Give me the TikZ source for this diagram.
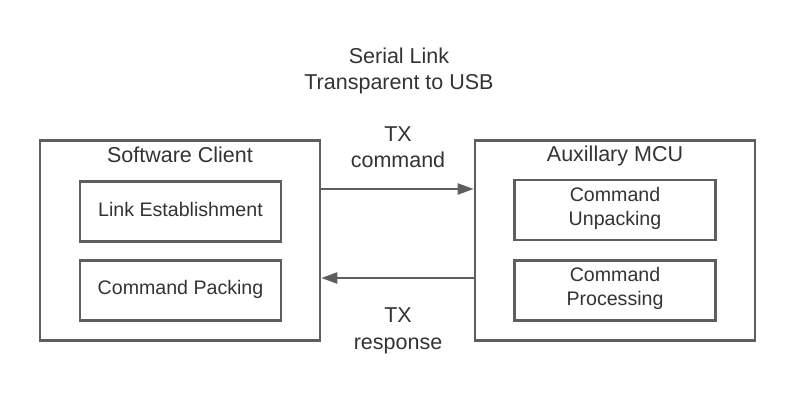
\documentclass[tikz,border=0pt]{standalone}
\usepackage{fontspec}
\setmainfont{Liberation Sans}
\usetikzlibrary{arrows.meta}
\definecolor{edge}{HTML}{5E5E5E}
\definecolor{txt}{HTML}{333333}
\tikzset{
  outerbox/.style={draw=edge, line width=2.6pt, minimum width=280pt, minimum height=200pt, inner sep=0pt},
  innerbox/.style={draw=edge, line width=2.6pt, minimum width=201pt, minimum height=60pt, inner sep=0pt},
  innertxt/.style={text=txt, align=center, inner sep=0pt, font=\fontsize{19.6}{24}\selectfont},
  bigtxt/.style={text=txt, align=center, inner sep=0pt, font=\fontsize{21.5}{26.5}\selectfont},
  arr/.style={draw=edge, line width=2.2pt, -{Triangle[length=16pt,width=11pt]}}
}
\begin{document}
\begin{tikzpicture}[x=1pt,y=-1pt]
\useasboundingbox (0,0) rectangle (795,403);
\node[bigtxt] (title) at (399,71) {Serial Link\\Transparent to USB};
\node[outerbox] (sc) at (180,240.5) {};
\node[outerbox] (mcu) at (615,240.5) {};
\node[bigtxt] (sct) at (180,155) {Software Client};
\node[bigtxt] (mcut) at (615,156) {Auxillary MCU};
\node[innerbox] (le) at (180.5,211.5) {};
\node[innerbox] (cp) at (180.5,290.5) {};
\node[innerbox] (cu) at (615,210) {};
\node[innerbox] (cpr) at (615,290.5) {};
\node[innertxt] (let) at (180.5,209.5) {Link Establishment};
\node[innertxt] (cpt) at (180.5,289) {Command Packing};
\node[innertxt] (cut) at (615,208) {Command\\Unpacking};
\node[innertxt] (cprt) at (615,288.5) {Command\\Processing};
\draw[arr] (sc.east |- 0,189) -- (mcu.west |- 0,189);
\draw[arr] (mcu.west |- 0,278) -- (sc.east |- 0,278);
\node[bigtxt] (txc) at (398,147) {TX\\command};
\node[bigtxt] (txr) at (398,331) {TX\\response};
\end{tikzpicture}
\end{document}
